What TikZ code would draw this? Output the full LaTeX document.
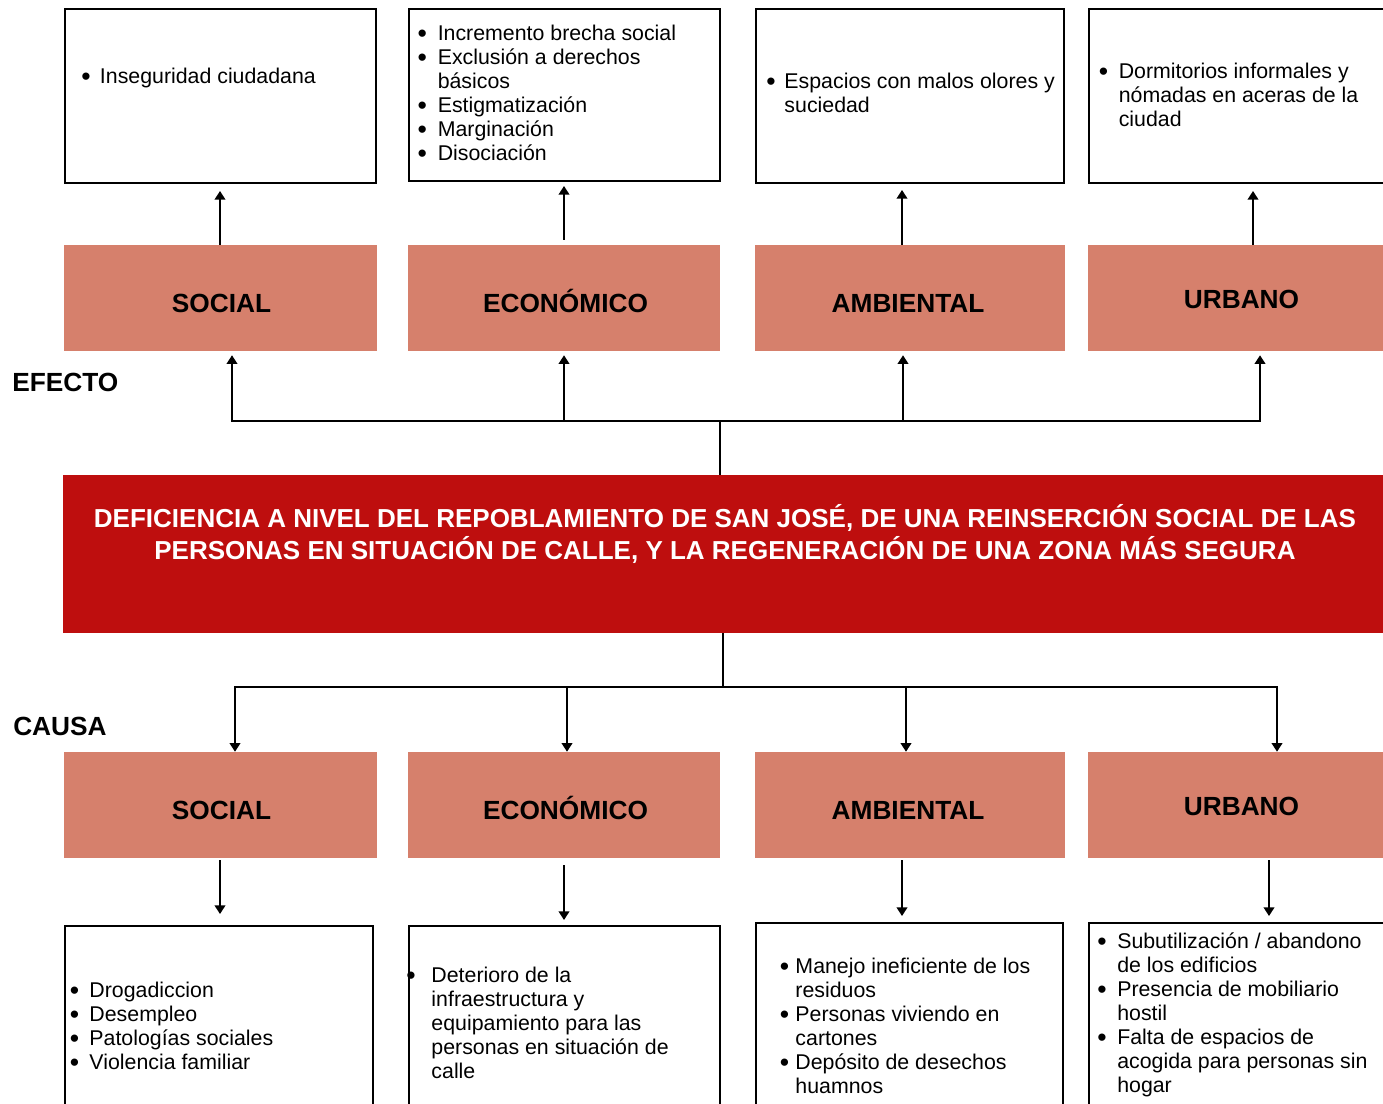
\documentclass[tikz,border=0pt]{standalone}
\usepackage{fontspec}
\setmainfont{Liberation Sans}
\usetikzlibrary{calc,arrows.meta}
\newlength\pxu \setlength\pxu{0.75pt}
\newcommand\BulL[2]{\makebox[#1\pxu][l]{\raisebox{-1.5pt}{\scalebox{1.25}{•}}}#2}
\newcommand\ContL[2]{\hspace*{#1\pxu}#2}
\definecolor{salmonbox}{RGB}{214,128,108}
\definecolor{redbox}{RGB}{190,14,14}
\tikzset{
  wbox/.style 2 args={draw=black, line width=1.5pt, fill=white, inner sep=0pt,
    minimum width=#1*0.75pt, minimum height=#2*0.75pt},
  sbox/.style 2 args={fill=salmonbox, draw=none, inner sep=0pt,
    minimum width=#1*0.75pt, minimum height=#2*0.75pt},
  rbox/.style 2 args={fill=redbox, draw=none, inner sep=0pt,
    minimum width=#1*0.75pt, minimum height=#2*0.75pt},
  ln/.style={draw=black, line width=1.3pt},
  arr/.style={ln, -{Triangle[length=6.5pt,width=8pt]}},
  txt/.style={inner sep=0pt, anchor=base west, font=\fontsize{16}{18}\selectfont},
  lbl/.style={inner sep=0pt, anchor=base, font=\fontsize{19.7}{24}\selectfont\bfseries},
  side/.style={inner sep=0pt, anchor=base west, font=\fontsize{19.7}{24}\selectfont\bfseries},
}
\begin{document}
\begin{tikzpicture}[x=0.75pt,y=-0.75pt]
\useasboundingbox (0,0) rectangle (1383,1103);
\clip (0,0) rectangle (1383,1103);
\fill[white] (0,0) rectangle (1383,1103);

% top white boxes
\node[wbox={311}{174}] (ew1) at (220.5,96) {};
\node[wbox={311}{172}] (ew2) at (564.5,95) {};
\node[wbox={308}{174}] (ew3) at (910,96) {};
\node[wbox={306}{174}] (ew4) at (1242,96) {};

% top salmon boxes
\node[sbox={313}{106}] (es1) at (220.5,298) {};
\node[sbox={312}{106}] (es2) at (564,298) {};
\node[sbox={310}{106}] (es3) at (910,298) {};
\node[sbox={307}{106}] (es4) at (1241.5,298) {};

% central red box
\node[rbox={1324}{158}] (red) at (725,554) {};

% bottom salmon boxes
\node[sbox={313}{106}] (cs1) at (220.5,805) {};
\node[sbox={312}{106}] (cs2) at (564,805) {};
\node[sbox={310}{106}] (cs3) at (910,805) {};
\node[sbox={307}{106}] (cs4) at (1241.5,805) {};

% bottom white boxes
\node[wbox={308}{189}] (cw1) at (219,1020.5) {};
\node[wbox={311}{189}] (cw2) at (564.5,1020.5) {};
\node[wbox={307}{192}] (cw3) at (909.5,1019) {};
\node[wbox={306}{192}] (cw4) at (1242,1019) {};

% arrows effect: salmon -> white
\draw[arr] ($(es1.north)+(-0.5,0)$) -- ($(ew1.south)+(-0.5,7)$);
\draw[arr] ($(es2.north)+(0,-5)$) -- ($(ew2.south)+(-0.5,4)$);
\draw[arr] ($(es3.north)+(-8,0)$) -- ($(ew3.south)+(-8,6)$);
\draw[arr] ($(es4.north)+(11.5,0)$) -- ($(ew4.south)+(11,7)$);

% tree to effects
\coordinate (jt) at (720,421);
\draw[ln] (red.north -| jt) -- (jt);
\draw[arr] (jt) -| ($(es1.south)+(11.5,4)$);
\draw[arr] (jt) -| ($(es2.south)+(0,4)$);
\draw[arr] (jt) -| ($(es3.south)+(-7,4)$);
\draw[arr] (jt) -| ($(es4.south)+(18.5,4)$);

% tree to causes
\coordinate (jb) at (723,687);
\draw[ln] (red.south -| jb) -- (jb);
\draw[arr] (jb) -| ($(cs1.north)+(14.5,0)$);
\draw[arr] (jb) -| ($(cs2.north)+(3,0)$);
\draw[arr] (jb) -| ($(cs3.north)+(-4,0)$);
\draw[arr] (jb) -| ($(cs4.north)+(35.5,0)$);

% arrows cause: salmon -> white
\draw[arr] ($(cs1.south)+(-0.5,2)$) -- ($(cw1.north)+(1,-11)$);
\draw[arr] ($(cs2.south)+(0,7)$) -- ($(cw2.north)+(-0.5,-5)$);
\draw[arr] ($(cs3.south)+(-8,2)$) -- ($(cw3.north)+(-7.5,-6)$);
\draw[arr] ($(cs4.south)+(27.5,2)$) -- ($(cw4.north)+(27,-6)$);

% labels
\node[side] (efecto) at (12,391.5) {EFECTO};
\node[side] (causa) at (13,735.5) {CAUSA};

\node[lbl] (les1) at (221.5,312.3) {SOCIAL};
\node[lbl] (les2) at (565.5,312.3) {ECONÓMICO};
\node[lbl] (les3) at (908,312.3) {AMBIENTAL};
\node[lbl] (les4) at (1241.5,308.5) {URBANO};

\node[lbl] (lcs1) at (221.5,819) {SOCIAL};
\node[lbl] (lcs2) at (565.5,819) {ECONÓMICO};
\node[lbl] (lcs3) at (908,819) {AMBIENTAL};
\node[lbl] (lcs4) at (1241.5,815.5) {URBANO};

\node[inner sep=0pt, anchor=base, text=white, font=\fontsize{19.5}{24}\selectfont\bfseries] (redtxt) at (725,527)
  {\parbox[t]{1320\pxu}{\centering DEFICIENCIA A NIVEL DEL REPOBLAMIENTO DE SAN JOSÉ, DE UNA REINSERCIÓN SOCIAL DE LAS\\
   PERSONAS EN SITUACIÓN DE CALLE, Y LA REGENERACIÓN DE UNA ZONA MÁS SEGURA}};

% effect texts
\node[txt] (te1) at (81.2,83) {\parbox[t]{290\pxu}{\BulL{18.5}{Inseguridad ciudadana}}};
\node[txt] (te2) at (417.3,40) {\parbox[t]{300\pxu}{%
  \BulL{20.2}{Incremento brecha social}\\
  \BulL{20.2}{Exclusión a derechos}\\
  \ContL{20.2}{básicos}\\
  \BulL{20.2}{Estigmatización}\\
  \BulL{20.2}{Marginación}\\
  \BulL{20.2}{Disociación}}};
\node[txt] (te3) at (766.2,88.5) {\parbox[t]{300\pxu}{%
  \BulL{18}{Espacios con malos olores y}\\
  \ContL{18}{suciedad}}};
\node[txt] (te4) at (1098.5,78.5) {\parbox[t]{300\pxu}{%
  \BulL{20}{Dormitorios informales y}\\
  \ContL{20}{nómadas en aceras de la}\\
  \ContL{20}{ciudad}}};

% cause texts
\node[txt] (tc1) at (69.5,997.3) {\parbox[t]{300\pxu}{%
  \BulL{19.7}{Drogadiccion}\\
  \BulL{19.7}{Desempleo}\\
  \BulL{19.7}{Patologías sociales}\\
  \BulL{19.7}{Violencia familiar}}};
\node[txt] (tc2) at (406.2,982) {\parbox[t]{310\pxu}{%
  \BulL{25}{Deterioro de la}\\
  \ContL{25}{infraestructura y}\\
  \ContL{25}{equipamiento para las}\\
  \ContL{25}{personas en situación de}\\
  \ContL{25}{calle}}};
\node[txt] (tc3) at (779.5,973.3) {\parbox[t]{300\pxu}{%
  \BulL{15.7}{Manejo ineficiente de los}\\
  \ContL{15.7}{residuos}\\
  \BulL{15.7}{Personas viviendo en}\\
  \ContL{15.7}{cartones}\\
  \BulL{15.7}{Depósito de desechos}\\
  \ContL{15.7}{huamnos}}};
\node[txt] (tc4) at (1097.2,948) {\parbox[t]{300\pxu}{%
  \BulL{19.8}{Subutilización / abandono}\\
  \ContL{19.8}{de los edificios}\\
  \BulL{19.8}{Presencia de mobiliario}\\
  \ContL{19.8}{hostil}\\
  \BulL{19.8}{Falta de espacios de}\\
  \ContL{19.8}{acogida para personas sin}\\
  \ContL{19.8}{hogar}}};
\end{tikzpicture}
\end{document}
